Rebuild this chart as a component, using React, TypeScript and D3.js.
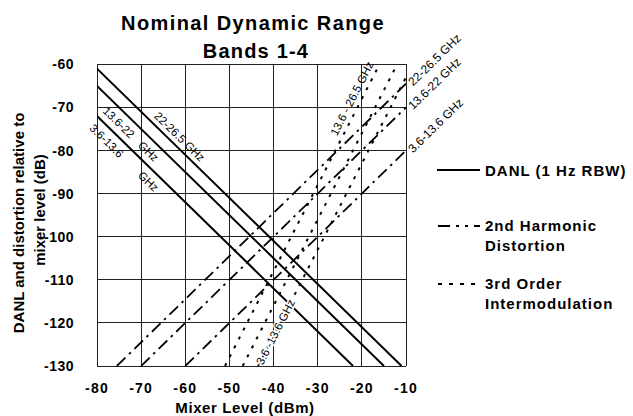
import React from "react";
import * as d3 from "d3";

const W = 633;
const H = 416;

// axis ticks
const xTicks = [-80, -70, -60, -50, -40, -30, -20, -10];
const yTicks = [-60, -70, -80, -90, -100, -110, -120, -130];

// DANL (1 Hz RBW) per band, dBm ; relative level = DANL - mixer level
const danlBands = ["22-26.5", "13.6-22", "3.6-13.6"];
const danlLevels = [-141, -145, -152];
const danlLabelX = [-68, -76.5, -79.5];
const danlGhzX = [null, -68.5, -68.5];

// 2nd harmonic intercept per band, dBm ; relative = mixer - SHI
const shiBands = ["22-26.5 GHz", "13.6-22 GHz", "3.6-13.6 GHz"];
const shiLevels = [54.5, 60, 70];

// 3rd order intercept, dBm ; relative = 2 * (mixer - TOI)
const toiBands = ["13.6 - 26.5 GHz", "", "3.6 -13.6 GHz"];
const toiLevels = [14, 18, 21.5];

const FONT = "'Liberation Sans', Arial, Helvetica, sans-serif";

const x = d3.scaleLinear().domain([-80, -10]).range([97, 406]);
const y = d3.scaleLinear().domain([-60, -130]).range([64.3, 366]);

function seg(a: number, b: number): [number, number][] {
  const [x0, x1] = x.domain();
  const [yTop, yBot] = y.domain();
  const xa = (yTop - b) / a;
  const xb = (yBot - b) / a;
  const lo = Math.max(x0, Math.min(xa, xb));
  const hi = Math.min(x1, Math.max(xa, xb));
  return [
    [lo, a * lo + b],
    [hi, a * hi + b],
  ];
}

function angle(a: number) {
  const dx = x(1) - x(0);
  const dy = y(a) - y(0);
  return (Math.atan2(dy, dx) * 180) / Math.PI;
}

const line = d3
  .line<[number, number]>()
  .x((d) => x(d[0]))
  .y((d) => y(d[1]));

const DASH2 = "12,5,2.5,5";
const DASH3 = "3,7";

export default function App() {
  const [xl, xr] = x.range();
  const [yt, yb] = y.range();
  return (
    <svg
      width={W}
      height={H}
      viewBox={`0 0 ${W} ${H}`}
      style={{ position: "fixed", left: 0, top: 0, background: "#fff" }}
      fontFamily={FONT}
    >
      <rect x={0} y={0} width={W} height={H} fill="#fff" />
      <defs>
        <clipPath id="plot">
          <rect x={xl} y={yt} width={xr - xl} height={yb - yt} />
        </clipPath>
      </defs>

      {/* title */}
      <text x={253} y={30} textAnchor="middle" fontSize={20} fontWeight="bold" letterSpacing={1.4}>
        Nominal Dynamic Range
      </text>
      <text x={256} y={58} textAnchor="middle" fontSize={20} fontWeight="bold" letterSpacing={1.2}>
        Bands 1-4
      </text>

      {/* grid */}
      <g stroke="#222" strokeWidth={1} shapeRendering="crispEdges">
        {xTicks.map((t) => (
          <line key={"gx" + t} x1={x(t)} x2={x(t)} y1={yt} y2={yb} />
        ))}
        {yTicks.map((t) => (
          <line key={"gy" + t} x1={xl} x2={xr} y1={y(t)} y2={y(t)} />
        ))}
      </g>

      {/* tick labels */}
      <g fontSize={14} fontWeight="bold" fill="#000">
        {yTicks.map((t) => (
          <text key={"ty" + t} x={74} y={y(t) + 5} textAnchor="end" letterSpacing={0.5}>
            {t}
          </text>
        ))}
        {xTicks.map((t) => (
          <text key={"tx" + t} x={x(t)} y={392.5} textAnchor="middle" letterSpacing={1.2}>
            {t}
          </text>
        ))}
      </g>

      {/* axis titles */}
      <text x={245} y={413} textAnchor="middle" fontSize={15} fontWeight="bold" letterSpacing={0.6}>
        Mixer Level (dBm)
      </text>
      <text transform={`translate(24,223) rotate(-90)`} textAnchor="middle" fontSize={15} fontWeight="bold">
        DANL and distortion relative to
      </text>
      <text transform={`translate(45,210) rotate(-90)`} textAnchor="middle" fontSize={15} fontWeight="bold">
        mixer level (dB)
      </text>

      {/* data lines */}
      <g clipPath="url(#plot)" fill="none" stroke="#000">
        {danlLevels.map((d, i) => (
          <path key={"danl" + i} d={line(seg(-1, d)) || ""} strokeWidth={2} />
        ))}
        {shiLevels.map((s, i) => (
          <path key={"shi" + i} d={line(seg(1, -s)) || ""} strokeWidth={1.8} strokeDasharray={DASH2} />
        ))}
        {toiLevels.map((t, i) => (
          <path key={"toi" + i} d={line(seg(2, -2 * t)) || ""} strokeWidth={2} strokeDasharray={DASH3} />
        ))}
      </g>

      {/* DANL labels */}
      <g fontSize={11.5} fill="#000">
        {danlLevels.map((d, i) => {
          const lx = danlLabelX[i];
          const gx = danlGhzX[i];
          const dy = i === 0 ? -5 : 15;
          const a = angle(-1);
          return (
            <g key={"dl" + i}>
              {gx === null ? (
                <text transform={`translate(${x(lx)},${y(d - lx)}) rotate(${a})`} dy={dy}>
                  {danlBands[i] + " GHz"}
                </text>
              ) : (
                <>
                  <text transform={`translate(${x(lx)},${y(d - lx)}) rotate(${a})`} dy={dy}>
                    {danlBands[i]}
                  </text>
                  <text transform={`translate(${x(gx)},${y(d - gx)}) rotate(${a})`} dy={dy}>
                    GHz
                  </text>
                </>
              )}
            </g>
          );
        })}
      </g>

      {/* 2nd harmonic labels at right edge */}
      <g fontSize={12} fill="#000">
        {shiLevels.map((s, i) => {
          const xe = -10;
          return (
            <text
              key={"sl" + i}
              transform={`translate(${x(xe)},${y(xe - s)}) rotate(${angle(1)})`}
              dx={3}
              dy={7}
            >
              {shiBands[i]}
            </text>
          );
        })}
      </g>

      {/* 3rd order labels */}
      <g fontSize={11.5} fill="#000">
        {(() => {
          const a = angle(2);
          const t0 = toiLevels[0];
          const yTopLbl = -60.5;
          const x0 = yTopLbl / 2 + t0;
          const t2 = toiLevels[2];
          const yBotLbl = -129.5;
          const x2 = yBotLbl / 2 + t2;
          return (
            <>
              <text
                transform={`translate(${x(x0)},${y(yTopLbl)}) rotate(${a})`}
                textAnchor="end"
                dy={-5}
              >
                {toiBands[0]}
              </text>
              <text
                transform={`translate(${x(x2)},${y(yBotLbl)}) rotate(${a})`}
                dy={4}
                stroke="#fff"
                strokeWidth={3}
                paintOrder="stroke"
              >
                {toiBands[2]}
              </text>
            </>
          );
        })()}
      </g>

      {/* legend */}
      <g fontSize={15} fontWeight="bold" fill="#000" letterSpacing={1}>
        <line x1={437} x2={480} y1={170} y2={170} stroke="#000" strokeWidth={2} />
        <text x={485} y={175.5}>DANL (1 Hz RBW)</text>

        <line x1={438} x2={480} y1={226} y2={226} stroke="#000" strokeWidth={2} strokeDasharray="12,6,3,6,3,6" />
        <text x={485} y={231}>2nd Harmonic</text>
        <text x={485} y={251}>Distortion</text>

        <line x1={438} x2={481} y1={284} y2={284} stroke="#000" strokeWidth={2} strokeDasharray="4,7" />
        <text x={485} y={289}>3rd Order</text>
        <text x={485} y={309}>Intermodulation</text>
      </g>
    </svg>
  );
}
